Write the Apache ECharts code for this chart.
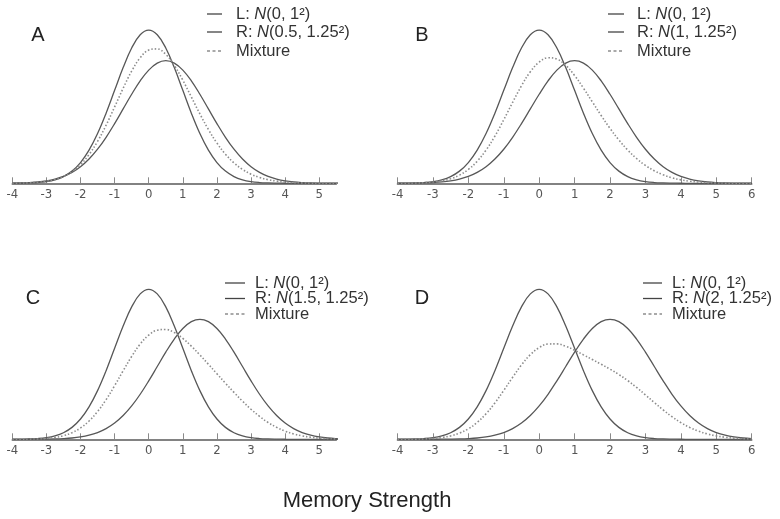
<!DOCTYPE html>
<html>
<head>
<meta charset="utf-8">
<script src="https://cdn.jsdelivr.net/npm/echarts@6/dist/echarts.min.js"></script>
<style>
html,body{margin:0;padding:0;background:#fff;}
#chart{width:780px;height:519px;}
</style>
</head>
<body>
<div id="chart"></div>
<script>
// x positions (Memory Strength) from -4 to 6 in steps of 0.25
const xs = [-4,-3.75,-3.5,-3.25,-3,-2.75,-2.5,-2.25,-2,-1.75,-1.5,-1.25,-1,-0.75,-0.5,-0.25,
            0,0.25,0.5,0.75,1,1.25,1.5,1.75,2,2.25,2.5,2.75,3,3.25,3.5,3.75,4,4.25,4.5,4.75,5,5.25,5.5,5.75,6];

// L: N(0,1^2) - same in every panel
const lCurve = [0.0001,0.0004,0.0009,0.0020,0.0044,0.0091,0.0175,0.0317,0.0540,0.0863,0.1295,0.1826,0.2420,0.3011,0.3521,0.3867,
                0.3989,0.3867,0.3521,0.3011,0.2420,0.1826,0.1295,0.0863,0.0540,0.0317,0.0175,0.0091,0.0044,0.0020,0.0009,0.0004,0.0001,0,0,0,0,0,0,0,0];

// R curves
const rA = [0.0005,0.0010,0.0019,0.0035,0.0063,0.0109,0.0179,0.0284,0.0432,0.0632,0.0887,0.1198,0.1554,0.1936,0.2318,0.2666,
            0.2946,0.3128,0.3191,0.3128,0.2946,0.2666,0.2318,0.1936,0.1554,0.1198,0.0887,0.0632,0.0432,0.0284,0.0179,0.0109,0.0063,0.0035,0.0019,0.0010,0.0005,0.0002,0.0001,0,0];
const rB = [0.0001,0.0002,0.0005,0.0010,0.0019,0.0035,0.0063,0.0109,0.0179,0.0284,0.0432,0.0632,0.0887,0.1198,0.1554,0.1936,
            0.2318,0.2666,0.2946,0.3128,0.3191,0.3128,0.2946,0.2666,0.2318,0.1936,0.1554,0.1198,0.0887,0.0632,0.0432,0.0284,0.0179,0.0109,0.0063,0.0035,0.0019,0.0010,0.0005,0.0002,0.0001];
const rC = [0,0,0.0001,0.0002,0.0005,0.0010,0.0019,0.0035,0.0063,0.0109,0.0179,0.0284,0.0432,0.0632,0.0887,0.1198,
            0.1554,0.1936,0.2318,0.2666,0.2946,0.3128,0.3191,0.3128,0.2946,0.2666,0.2318,0.1936,0.1554,0.1198,0.0887,0.0632,0.0432,0.0284,0.0179,0.0109,0.0063,0.0035,0.0019,0.0010,0.0005];
const rD = [0,0,0,0,0.0001,0.0002,0.0005,0.0010,0.0019,0.0035,0.0063,0.0109,0.0179,0.0284,0.0432,0.0632,
            0.0887,0.1198,0.1554,0.1936,0.2318,0.2666,0.2946,0.3128,0.3191,0.3128,0.2946,0.2666,0.2318,0.1936,0.1554,0.1198,0.0887,0.0632,0.0432,0.0284,0.0179,0.0109,0.0063,0.0035,0.0019];

// Mixture curves
const mA = [0.0003,0.0007,0.0014,0.0028,0.0054,0.0100,0.0177,0.0301,0.0486,0.0748,0.1091,0.1512,0.1987,0.2474,0.2920,0.3267,
            0.3468,0.3498,0.3356,0.3070,0.2683,0.2246,0.1807,0.1400,0.1047,0.0758,0.0531,0.0362,0.0238,0.0152,0.0094,0.0057,0.0032,0.0018,0.0010,0.0005,0.0003,0.0001,0.0001,0,0];
const mB = [0.0001,0.0003,0.0007,0.0015,0.0032,0.0063,0.0119,0.0213,0.0360,0.0574,0.0864,0.1229,0.1654,0.2105,0.2538,0.2902,
            0.3154,0.3267,0.3234,0.3070,0.2806,0.2477,0.2121,0.1765,0.1429,0.1127,0.0865,0.0645,0.0466,0.0326,0.0221,0.0144,0.0090,0.0055,0.0032,0.0018,0.0010,0.0005,0.0003,0.0001,0.0001];
const mC = [0.0001,0.0002,0.0005,0.0011,0.0025,0.0051,0.0097,0.0176,0.0302,0.0486,0.0737,0.1055,0.1426,0.1822,0.2204,0.2533,
            0.2772,0.2902,0.2920,0.2839,0.2683,0.2477,0.2243,0.1996,0.1743,0.1492,0.1247,0.1014,0.0799,0.0609,0.0448,0.0318,0.0217,0.0142,0.0090,0.0055,0.0032,0.0018,0.0010,0.0005,0.0003];
const mD = [0.0001,0.0002,0.0005,0.0010,0.0023,0.0047,0.0090,0.0164,0.0280,0.0449,0.0679,0.0968,0.1300,0.1648,0.1977,0.2250,
            0.2438,0.2533,0.2538,0.2474,0.2369,0.2246,0.2121,0.1996,0.1866,0.1723,0.1561,0.1379,0.1181,0.0978,0.0782,0.0601,0.0444,0.0316,0.0216,0.0142,0.0090,0.0055,0.0032,0.0018,0.0010];

// tick labels
const ticksShort = [-4,-3,-2,-1,0,1,2,3,4,5];
const ticksLong = [-4,-3,-2,-1,0,1,2,3,4,5,6];

// panel text
const panelLetters = ['A','B','C','D'];
const rMeans = ['0.5','1','1.5','2'];

const panels = [
  {r: rA, m: mA, max: 5.5, ticks: ticksShort, grid: {left: 12.3, top: 10.4, width: 324, height: 172.9}},
  {r: rB, m: mB, max: 6,   ticks: ticksLong,  grid: {left: 397.5, top: 10.4, width: 354.2, height: 172.9}},
  {r: rC, m: mC, max: 5.5, ticks: ticksShort, grid: {left: 12.3, top: 270.1, width: 324, height: 169.2}},
  {r: rD, m: mD, max: 6,   ticks: ticksLong,  grid: {left: 397.5, top: 270.1, width: 354.2, height: 169.2}}
];

const pair = arr => xs.map((x, i) => [x, arr[i]]);

const grids = [], xAxes = [], yAxes = [], series = [];
panels.forEach((p, k) => {
  grids.push(p.grid);
  xAxes.push({
    type: 'value', gridIndex: k, min: -4, max: p.max, interval: 1,
    axisLine: {show: true, lineStyle: {color: '#5a5a5a', width: 1.6}},
    axisTick: {show: true, inside: true, length: 6, customValues: p.ticks, lineStyle: {color: '#8a8a8a', width: 1}},
    axisLabel: {customValues: p.ticks, margin: 5, color: '#555', fontSize: 13,
                fontFamily: '"Liberation Sans Narrow","DejaVu Sans Condensed",sans-serif'},
    splitLine: {show: false}
  });
  yAxes.push({type: 'value', gridIndex: k, min: 0, max: 0.45, show: false});
  const base = {type: 'line', xAxisIndex: k, yAxisIndex: k, smooth: 0.4, showSymbol: false, animation: false, silent: true};
  series.push(Object.assign({}, base, {name: 'L' + k, data: pair(lCurve), lineStyle: {color: '#575757', width: 1.3}}));
  series.push(Object.assign({}, base, {name: 'R' + k, data: pair(p.r), lineStyle: {color: '#575757', width: 1.3}}));
  series.push(Object.assign({}, base, {name: 'M' + k, data: pair(p.m), lineStyle: {color: '#8c8c8c', width: 1.6, type: [1.5, 2]}}));
});

// legend & labels (graphic)
const legendPos = [
  {lx1: 207, lx2: 222, tx: 236, rows: [14, 32, 51]},
  {lx1: 608, lx2: 624, tx: 637, rows: [14, 32, 51]},
  {lx1: 225, lx2: 245, tx: 255, rows: [283, 298.5, 314]},
  {lx1: 643, lx2: 662, tx: 672, rows: [283, 298.5, 314]}
];
const letterPos = [[38, 35], [422, 35], [33, 298], [422, 298]];
const FONT = '"Liberation Sans", Arial, sans-serif';
const LFS = 16.5;
const rich = {
  n: {fontSize: LFS, fontFamily: FONT, fill: '#333', color: '#333'},
  i: {fontSize: LFS, fontFamily: FONT, fontStyle: 'italic', fill: '#333', color: '#333'}
};
const graphic = [];
legendPos.forEach((g, k) => {
  const texts = [
    '{n|L: }{i|N}{n|(0, 1²)}',
    '{n|R: }{i|N}{n|(' + rMeans[k] + ', 1.25²)}',
    '{n|Mixture}'
  ];
  g.rows.forEach((y, j) => {
    graphic.push({
      type: 'line', silent: true,
      shape: {x1: g.lx1, y1: y, x2: g.lx2, y2: y},
      style: j < 2 ? {stroke: '#444', lineWidth: 1.3} : {stroke: '#555', lineWidth: 1.2, lineDash: [3, 2.5]}
    });
    graphic.push({
      type: 'text', silent: true, x: g.tx, y: y,
      style: {text: texts[j], rich: rich, verticalAlign: 'middle', align: 'left', fill: '#333', font: LFS + 'px ' + FONT}
    });
  });
  graphic.push({
    type: 'text', silent: true, x: letterPos[k][0], y: letterPos[k][1],
    style: {text: panelLetters[k], fill: '#222', font: '20px ' + FONT, align: 'center', verticalAlign: 'middle'}
  });
});
graphic.push({
  type: 'text', silent: true, x: 367, y: 501,
  style: {text: 'Memory Strength', fill: '#222', font: '22px ' + FONT, align: 'center', verticalAlign: 'middle'}
});

const chart = echarts.init(document.getElementById('chart'), null, {renderer: 'canvas'});
chart.setOption({
  backgroundColor: '#fff',
  animation: false,
  grid: grids,
  xAxis: xAxes,
  yAxis: yAxes,
  series: series,
  graphic: graphic
});
</script>
</body>
</html>
